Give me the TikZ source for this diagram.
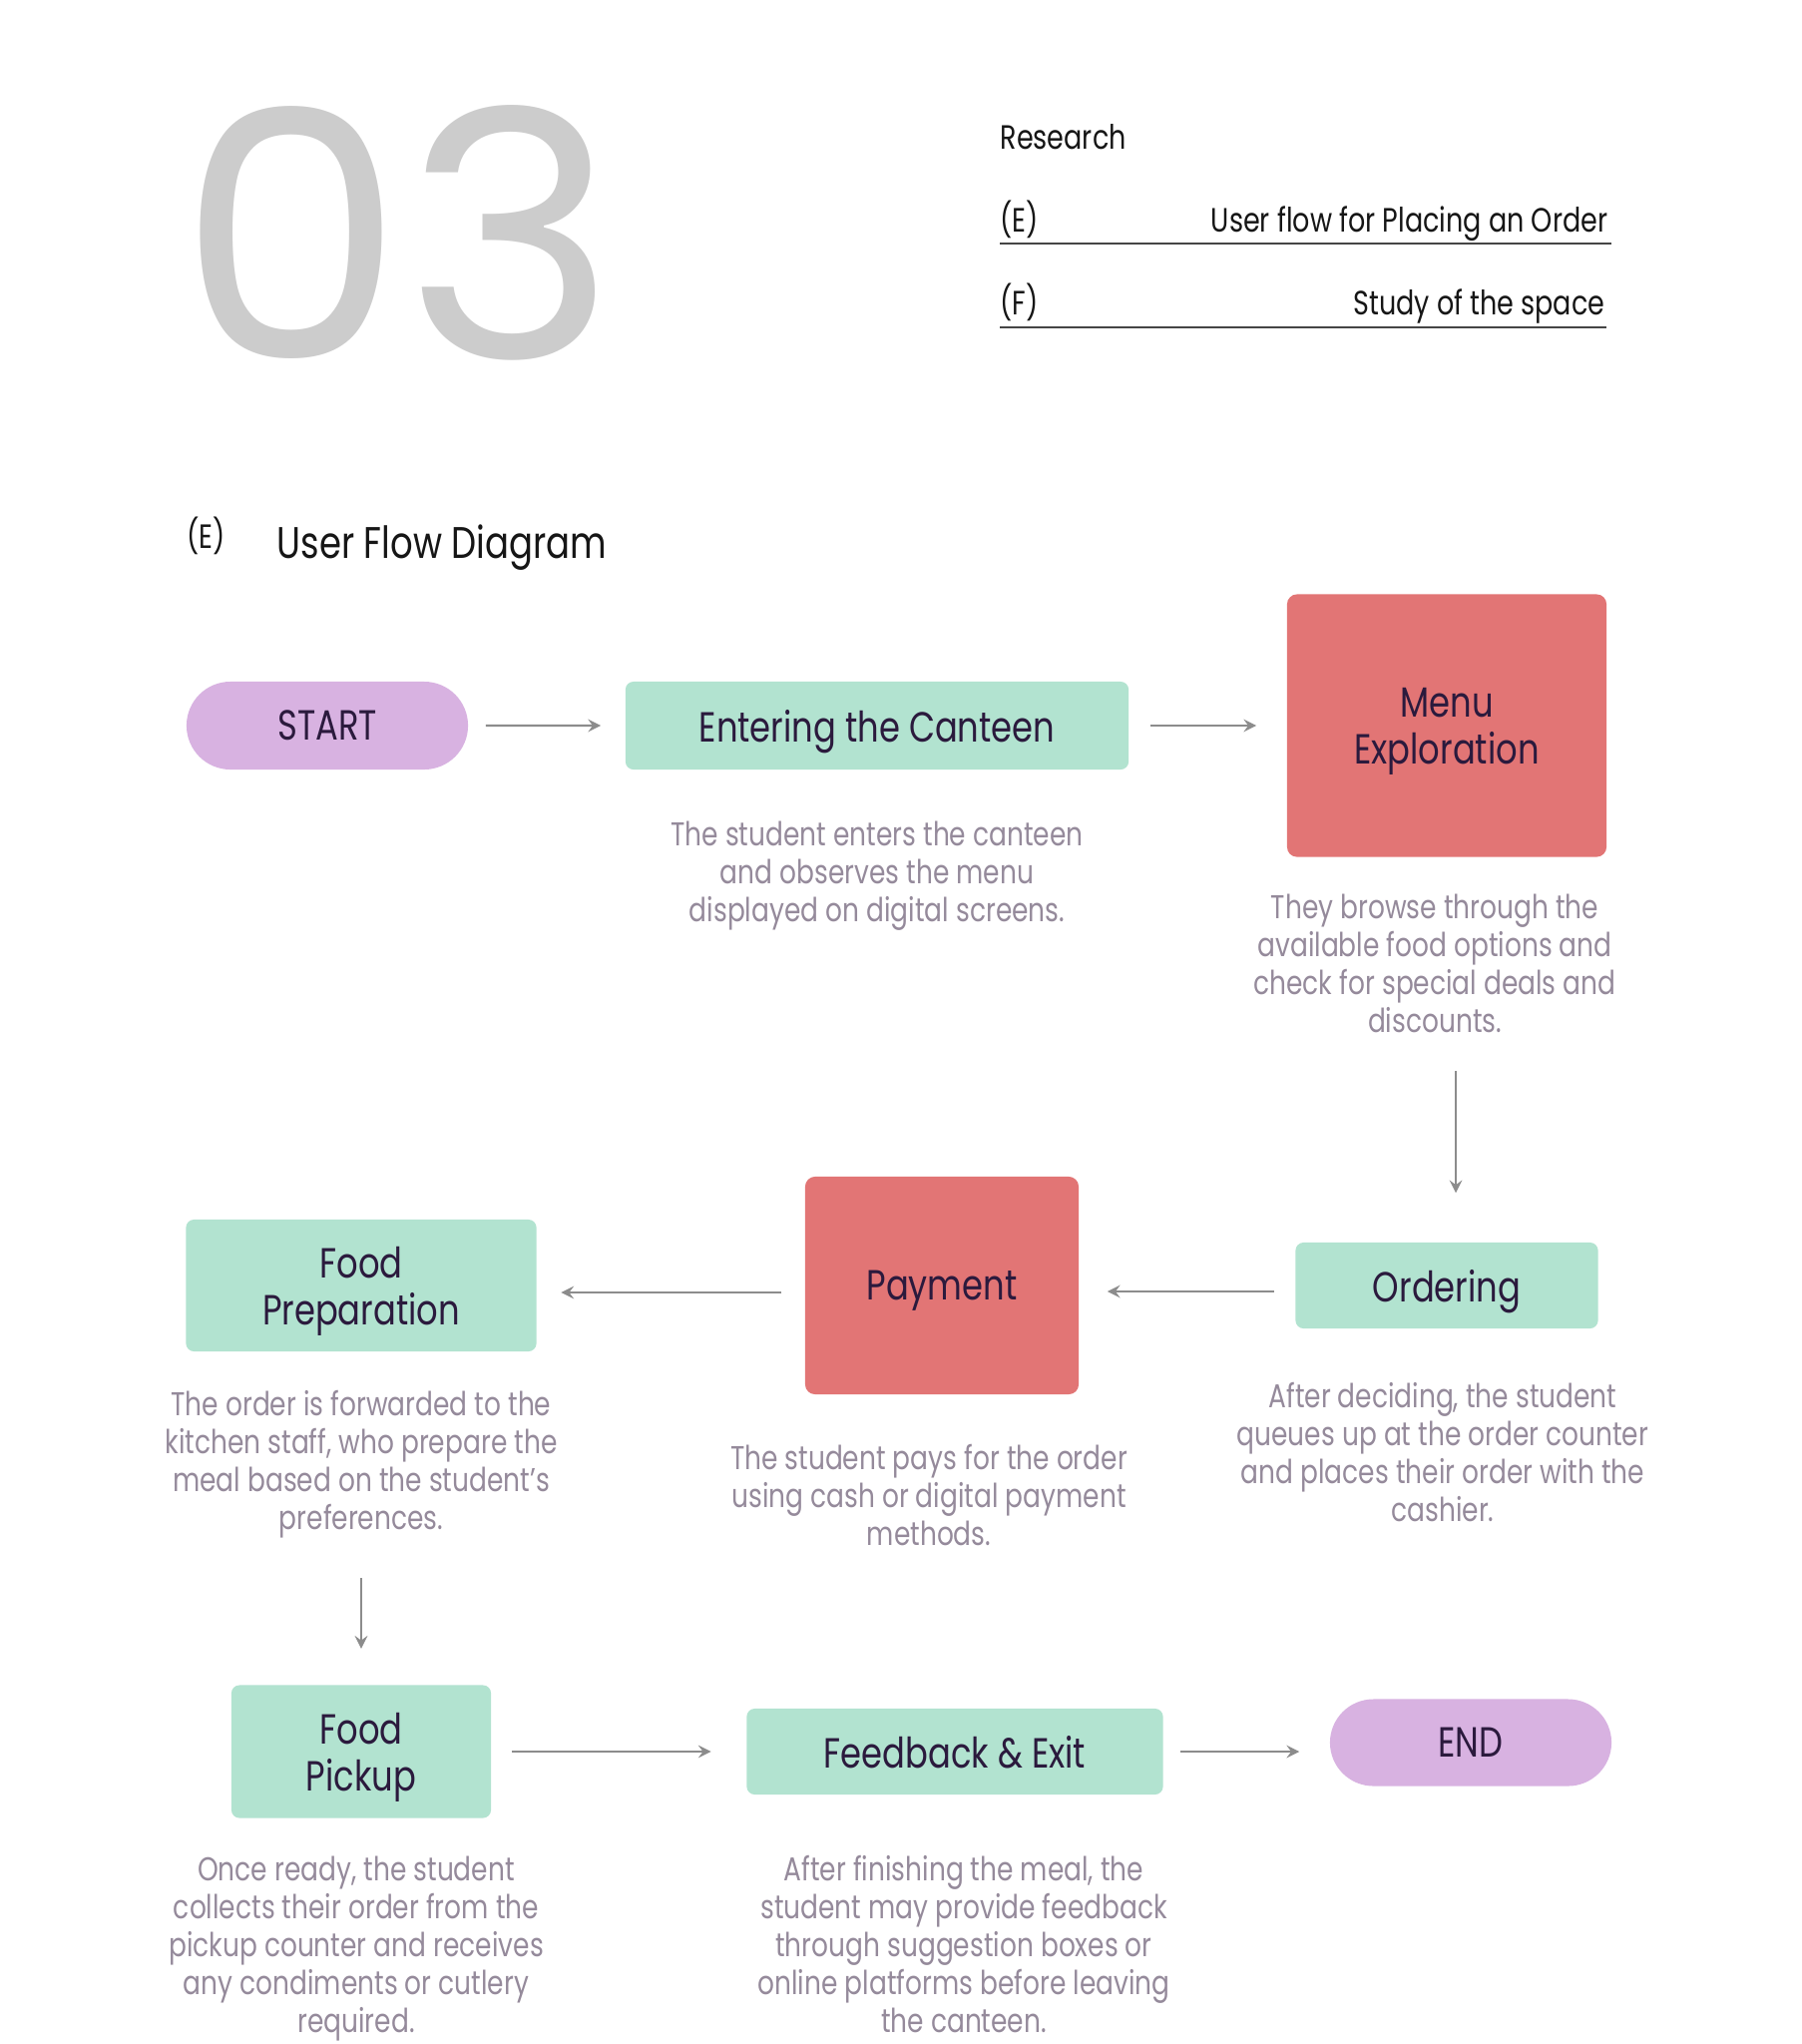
\documentclass[tikz,border=0pt]{standalone}
\usepackage{fontspec}
\setmainfont[FakeStretch=0.8]{Poppins}
\newfontfamily\bignumfont[FakeStretch=1.05]{Poppins}
\usetikzlibrary{shapes.misc}
\definecolor{pillpurple}{HTML}{D8B2E1}
\definecolor{mint}{HTML}{B2E3D0}
\definecolor{coral}{HTML}{E27575}
\definecolor{ink}{HTML}{2B1A3D}
\definecolor{notegray}{HTML}{958A9B}
\definecolor{wiregray}{HTML}{8C8C8C}
\definecolor{numgray}{HTML}{CCCCCC}
\definecolor{headink}{HTML}{161616}
\newcommand\flowlabel{\fontsize{12}{13.4}\selectfont}
\newcommand\flownote{\fontsize{9.4}{10.8}\selectfont}
\newcommand\headtext{\fontsize{9.6}{11}\selectfont}

\begin{document}
\begin{tikzpicture}[x=0.01cm, y=-0.01cm, >=stealth,
  pillbox/.style={rounded rectangle, fill=pillpurple, text=ink, font=\flowlabel, text depth=0pt, inner sep=0},
  greenbox/.style={rectangle, rounded corners=0.08cm, fill=mint, text=ink, font=\flowlabel, align=center, text depth=0pt, inner sep=0},
  redbox/.style={rectangle, rounded corners=0.1cm, fill=coral, text=ink, font=\flowlabel, align=center, text depth=0pt, inner sep=0},
  notetext/.style={anchor=north, text=notegray, font=\flownote, align=center, inner sep=0},
  flow/.style={->, draw=wiregray, line width=0.6pt}]
  \fill[white] (0,0) rectangle (1805,2048);
  \useasboundingbox (0,0) rectangle (1805,2048);

  \node[anchor=base west, text=numgray, font=\bignumfont\fontsize{98}{98}\selectfont, inner sep=0] (num) at (178,359) {03};
  \node[anchor=base west, text=headink, font=\headtext, inner sep=0] (research) at (1002,149) {Research};
  \node[anchor=base west, text=headink, font=\headtext, inner sep=0] (ekey) at (1002,232) {(E)};
  \node[anchor=base east, text=headink, font=\headtext, inner sep=0] (etitle) at (1612,232) {User flow for Placing an Order};
  \node[anchor=base west, text=headink, font=\headtext, inner sep=0] (fkey) at (1002,315) {(F)};
  \node[anchor=base east, text=headink, font=\headtext, inner sep=0] (ftitle) at (1609,315) {Study of the space};
  \draw[draw=headink!80, line width=0.5pt] (1002,244) -- (1615,244);
  \draw[draw=headink!80, line width=0.5pt] (1002,328) -- (1610,328);

  \node[anchor=base west, text=headink, font=\headtext, inner sep=0] (skey) at (187,549) {(E)};
  \node[anchor=base west, text=headink, font=\fontsize{12.6}{15}\selectfont, inner sep=0] (stitle) at (277,559) {User Flow Diagram};

  \node[pillbox, minimum width=2.82cm, minimum height=0.88cm] (start) at (328,727) {START};
  \node[greenbox, minimum width=5.04cm, minimum height=0.88cm] (enter) at (879,727) {Entering the Canteen};
  \node[redbox, minimum width=3.2cm, minimum height=2.63cm] (menu) at (1450,727) {Menu\\Exploration};
  \node[greenbox, minimum width=3.03cm, minimum height=0.86cm] (order) at (1450,1288) {Ordering};
  \node[redbox, minimum width=2.74cm, minimum height=2.18cm] (pay) at (944,1288) {Payment};
  \node[greenbox, minimum width=3.51cm, minimum height=1.32cm] (prep) at (362,1288) {Food\\Preparation};
  \node[greenbox, minimum width=2.6cm, minimum height=1.33cm] (pickup) at (362,1755) {Food\\Pickup};
  \node[greenbox, minimum width=4.17cm, minimum height=0.86cm] (exit) at (957,1755) {Feedback \& Exit};
  \node[pillbox, minimum width=2.82cm, minimum height=0.87cm] (end) at (1474,1746) {END};

  \node[notetext] (enterdesc) at (879,822) {The student enters the canteen\\and observes the menu\\displayed on digital screens.};
  \node[notetext] (menudesc) at (1438,895) {They browse through the\\available food options and\\check for special deals and\\discounts.};
  \node[notetext] (orderdesc) at (1446,1385) {After deciding, the student\\queues up at the order counter\\and places their order with the\\cashier.};
  \node[notetext] (paydesc) at (931,1447) {The student pays for the order\\using cash or digital payment\\methods.};
  \node[notetext] (prepdesc) at (362,1393) {The order is forwarded to the\\kitchen staff, who prepare the\\meal based on the student's\\preferences.};
  \node[notetext] (pickupdesc) at (357,1859) {Once ready, the student\\collects their order from the\\pickup counter and receives\\any condiments or cutlery\\required.};
  \node[notetext] (exitdesc) at (966,1859) {After finishing the meal, the\\student may provide feedback\\through suggestion boxes or\\online platforms before leaving\\the canteen.};

  \draw[flow, shorten <=0.17cm, shorten >=0.24cm] (start) -- (enter);
  \draw[flow, shorten <=0.21cm, shorten >=0.3cm] (enter) -- (menu);
  \draw[flow, shorten <=0.38cm, shorten >=0.49cm] ([xshift=0.09cm]menudesc.south -| order.north) -- ([xshift=0.09cm]order.north);
  \draw[flow, shorten <=0.21cm, shorten >=0.28cm] ([yshift=-0.06cm]order.west) -- ([yshift=-0.06cm]order.west -| pay.east);
  \draw[flow, shorten <=0.23cm, shorten >=0.24cm] ([yshift=-0.07cm]pay.west) -- ([yshift=-0.07cm]pay.west -| prep.east);
  \draw[flow, shorten <=0.39cm, shorten >=0.36cm] (prepdesc.south -| prep.south) -- (pickup.north);
  \draw[flow, shorten <=0.2cm, shorten >=0.35cm] (pickup) -- (exit);
  \draw[flow, shorten <=0.17cm, shorten >=0.3cm] (exit.east) -- (exit.east -| end.west);
\end{tikzpicture}
\end{document}
